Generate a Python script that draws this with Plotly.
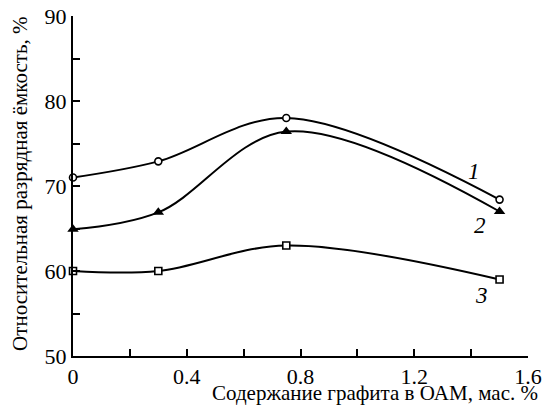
import plotly.graph_objects as go

graphite = [0, 0.3, 0.75, 1.5]
cap1 = [71.0, 72.9, 78.0, 68.4]
cap2 = [64.9, 66.9, 76.4, 67.0]
cap3 = [60.0, 60.0, 63.0, 59.0]
curve_labels = ["1", "2", "3"]
label_x = [1.41, 1.43, 1.438]
label_y = [71.7, 65.3, 57.1]
x_ticks = [0, 0.4, 0.8, 1.2, 1.6]
y_ticks = [50, 60, 70, 80, 90]

FONT = "Times New Roman, Liberation Serif, DejaVu Serif, serif"

fig = go.Figure()
series = [
    (cap1, dict(symbol="circle", size=7, color="white", line=dict(color="black", width=1.6))),
    (cap2, dict(symbol="triangle-up", size=10, color="black", line=dict(color="black", width=0))),
    (cap3, dict(symbol="square", size=7, color="white", line=dict(color="black", width=1.6))),
]
for ys, mk in series:
    fig.add_trace(go.Scatter(
        x=graphite, y=ys, mode="lines+markers",
        line=dict(color="black", width=2, shape="spline", smoothing=1.0),
        marker=mk, showlegend=False, cliponaxis=False, hoverinfo="skip",
    ))

for t, lx, ly in zip(curve_labels, label_x, label_y):
    fig.add_annotation(x=lx, y=ly, text=f"<i>{t}</i>", showarrow=False,
                       font=dict(family=FONT, size=23, color="black"))

fig.add_annotation(xref="paper", yref="paper", x=1.026, y=-0.11,
                   xanchor="right", yanchor="middle", showarrow=False,
                   text="Содержание графита в ОАМ, мас. %",
                   font=dict(family=FONT, size=21, color="black"))
fig.add_annotation(xref="paper", yref="paper", x=-0.1165, y=0.506,
                   xanchor="center", yanchor="middle", showarrow=False,
                   textangle=-90,
                   text="Относительная разрядная ёмкость, %",
                   font=dict(family=FONT, size=21, color="black"))

fig.update_xaxes(range=[0, 1.6], tickvals=x_ticks, ticktext=[str(v) for v in x_ticks],
                 automargin=False,
                 showline=True, linecolor="black", linewidth=2, mirror=False,
                 ticks="inside", ticklen=7, tickwidth=1.5, tickcolor="black",
                 minor=dict(dtick=0.2, tick0=0, ticks="inside", ticklen=7, tickwidth=1.5, tickcolor="black"),
                 showgrid=False, zeroline=False,
                 tickfont=dict(family=FONT, size=22, color="black"))
fig.update_yaxes(range=[50, 90], tickvals=y_ticks,
                 automargin=False,
                 showline=True, linecolor="black", linewidth=2, mirror=False,
                 ticks="inside", ticklen=7, tickwidth=1.5, tickcolor="black",
                 minor=dict(dtick=5, tick0=50, ticks="inside", ticklen=7, tickwidth=1.5, tickcolor="black"),
                 showgrid=False, zeroline=False,
                 tickfont=dict(family=FONT, size=22, color="black"))

fig.update_layout(width=544, height=405, margin=dict(l=73, r=16, t=16, b=49),
                  font=dict(family=FONT, color="black"),
                  plot_bgcolor="white", paper_bgcolor="white", hovermode=False)
fig.write_html("out.html", config={"displayModeBar": False},
               post_script="document.body.style.margin='0';")
